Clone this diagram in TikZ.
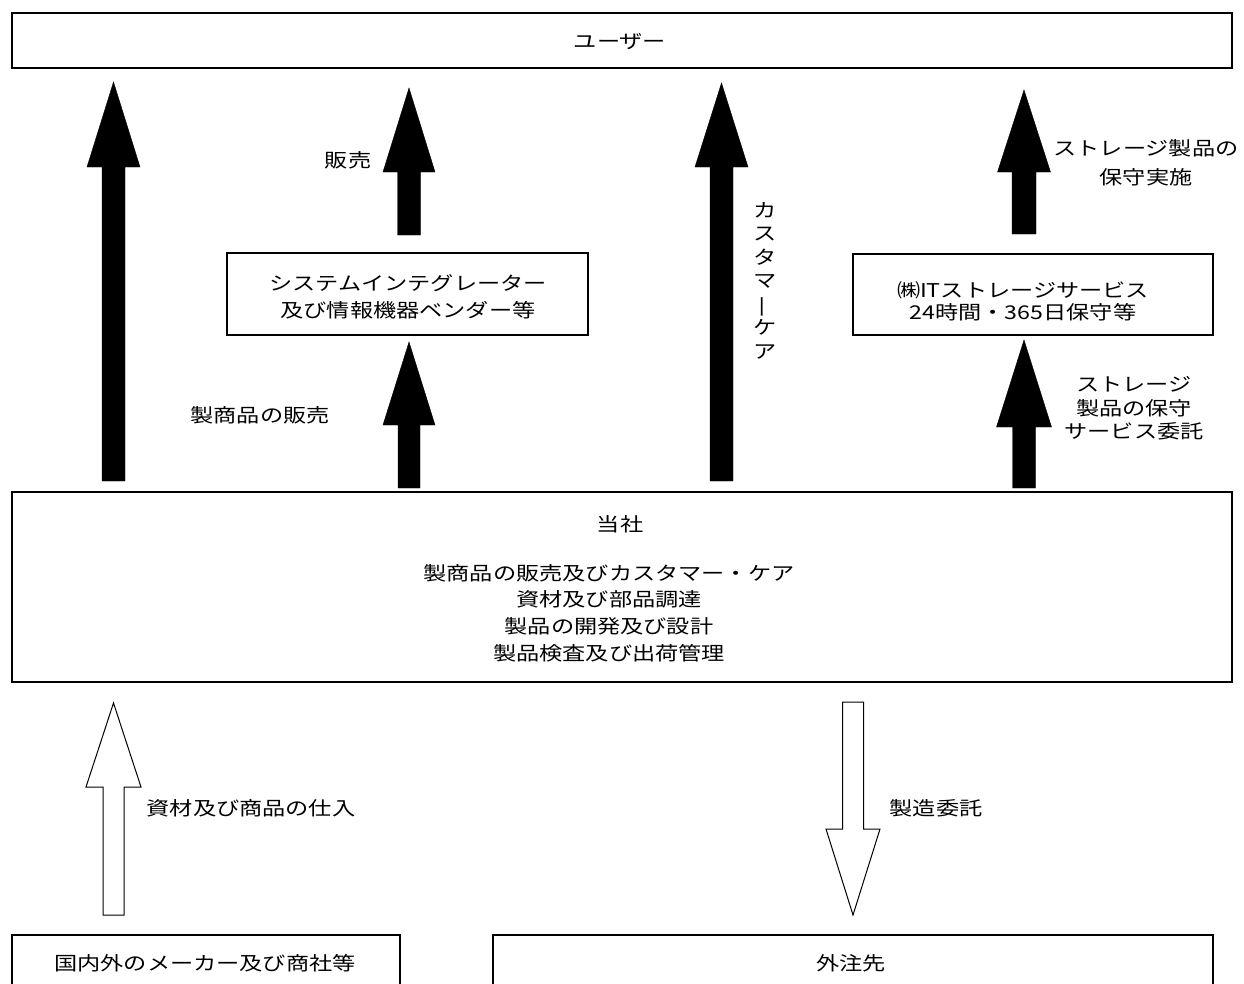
\documentclass[tikz,border=0pt]{standalone}
\usepackage{fontspec}
\usepackage{graphicx}
\setmainfont{Noto Sans CJK JP}[FakeStretch=1.22]
\newcommand{\barrow}[7]{% style, cx, tip, base, end, half head, half shaft
  \path[#1] (#2,#3) -- ({#2+#6},#4) -- ({#2+#7},#4) -- ({#2+#7},#5) -- ({#2-#7},#5) -- ({#2-#7},#4) -- ({#2-#6},#4) -- cycle;}
\begin{document}
\begin{tikzpicture}[x=1pt,y=-1pt,
  box/.style={draw=black,line width=1.3pt,rectangle,inner sep=0pt,align=center},
  txt/.style={inner sep=0pt,align=center,font=\fontsize{19}{23.5}\selectfont},
  solidarrow/.style={fill=black,draw=black,line width=0.4pt},
  hollowarrow/.style={fill=white,draw=black,line width=1pt}]
\useasboundingbox (0,0) rectangle (1244,983);
\clip (0,0) rectangle (1244,983);
% boxes
\node[box,minimum width=1220pt,minimum height=55pt] (user) at (622,40.5) {};
\node[txt] (usert) at (620,42) {ユーザー};
\node[box,minimum width=361pt,minimum height=82pt] (si) at (407.5,294) {};
\node[txt,font=\fontsize{19}{27}\selectfont] (sit) at (408,297) {システムインテグレーター\\及び情報機器ベンダー等};
\node[box,minimum width=360pt,minimum height=81pt] (it) at (1033,294.5) {};
\node[txt,font=\fontsize{19}{22}\selectfont] (itt) at (1023,301) {㈱ITストレージサービス\\24時間・365日保守等};
\node[box,minimum width=1220pt,minimum height=190pt] (co) at (622,587) {};
\node[txt] (cot) at (620,524) {当社};
\node[txt,font=\fontsize{19}{26.7}\selectfont] (cod) at (609,613) {製商品の販売及びカスタマー・ケア\\資材及び部品調達\\製品の開発及び設計\\製品検査及び出荷管理};
\draw[line width=1.3pt] (12,1000) |- (400,935) -- (400,1000);
\node[txt] (maker) at (205,963) {国内外のメーカー及び商社等};
\draw[line width=1.3pt] (493,1000) |- (1213,935) -- (1213,1000);
\node[txt] (gai) at (851,963) {外注先};
% arrows
\barrow{solidarrow}{113.5}{82}{167}{481}{26.5}{11.5}
\barrow{solidarrow}{409}{88}{172}{235}{26}{11.5}
\barrow{solidarrow}{409}{342}{425}{488}{26}{11}
\barrow{solidarrow}{721.5}{83}{167}{481}{26.5}{11.5}
\barrow{solidarrow}{1024}{90}{172}{234}{26.5}{12}
\barrow{solidarrow}{1024}{340}{427}{488}{27.5}{11.5}
\barrow{hollowarrow}{113.5}{703}{787}{915}{27.5}{10.5}
\barrow{hollowarrow}{853}{915}{829}{702}{27}{10.5}
% labels
\node[txt] (l1) at (348,160) {販売};
\node[txt,font=\fontsize{19}{29}\selectfont] (l2) at (1146,162.5) {ストレージ製品の\\保守実施};
\node[txt] (l3) at (260,415) {製商品の販売};
\node[txt] (l4) at (765,280.5) {カ\\ス\\タ\\マ\\\smash{\rotatebox[origin=c]{90}{ー}}\\ケ\\ア};
\node[txt] (l5) at (1134,408.5) {ストレージ\\製品の保守\\サービス委託};
\node[txt] (l6) at (251,808) {資材及び商品の仕入};
\node[txt] (l7) at (936,808) {製造委託};
\end{tikzpicture}
\end{document}
